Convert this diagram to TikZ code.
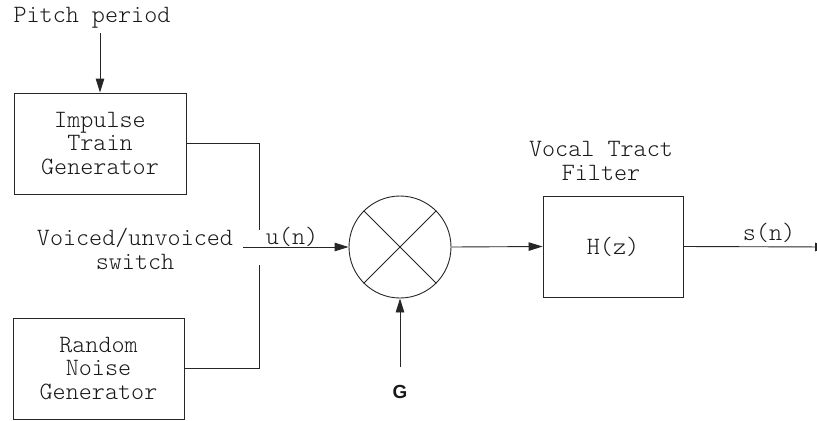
\documentclass[tikz,border=0pt]{standalone}
\usepackage{fontspec}
\setmonofont{lmmonolt10-regular.otf}
\newfontfamily\gfont{Liberation Sans}
\usetikzlibrary{arrows.meta}
\begin{document}
\begin{tikzpicture}[x=1bp,y=-1bp,
  line/.style={draw=black!85,line width=0.9bp},
  arr/.style={line,-{Triangle[length=14bp,width=8.5bp]}},
  txt/.style={font=\ttfamily\fontsize{25}{23.5}\selectfont,align=center,inner sep=0pt,text=black!90},
  blockbox/.style={line,rectangle,minimum width=172bp,minimum height=101bp,inner sep=0pt,
    font=\ttfamily\fontsize{25}{23.5}\selectfont,align=center,text=black!90},
  ]
\useasboundingbox (0,0) rectangle (817,420);
\node[txt] (pitch) at (92,18) {Pitch period};
\coordinate (pin) at (100,33);
\node[blockbox] (imp) at (100,143.5) {Impulse\\Train\\Generator};
\node[blockbox,minimum width=171bp] (noise) at (98.5,368.5) {Random\\Noise\\Generator};
\node[txt] (sw) at (135,249) {Voiced/unvoiced\\switch};
\node[txt] (u) at (292,237) {u(n)};
\coordinate (sw1) at (259,230);
\coordinate (sw2) at (259,265);
\coordinate (swo) at (243,247);
\node[line,circle,minimum size=102bp,inner sep=0pt] (mult) at (400,247) {};
\node[font=\gfont\bfseries\fontsize{19}{20}\selectfont,inner sep=0pt,text=black!90] (G) at (400,392) {G};
\node[blockbox,minimum width=140bp] (H) at (613,246.5) {H(z)};
\node[txt] (vtf) at (601,161) {Vocal Tract\\Filter};
\node[txt] (s) at (769,233) {s(n)};
\coordinate (out) at (829,247);

\draw[arr] (pin) -- (imp.north);
\draw[line] (imp.east) -| (sw1);
\draw[line] (noise.east) -| (sw2);
\draw[arr] (swo) -- (mult.west);
\draw[line] (mult.45) -- (mult.225);
\draw[line] (mult.135) -- (mult.-45);
\draw[arr] ([yshift=18bp]G.north) -- (mult.south);
\draw[arr] (mult.east) -- (H.west);
\draw[arr] (H.east) -- (out);
\end{tikzpicture}
\end{document}
